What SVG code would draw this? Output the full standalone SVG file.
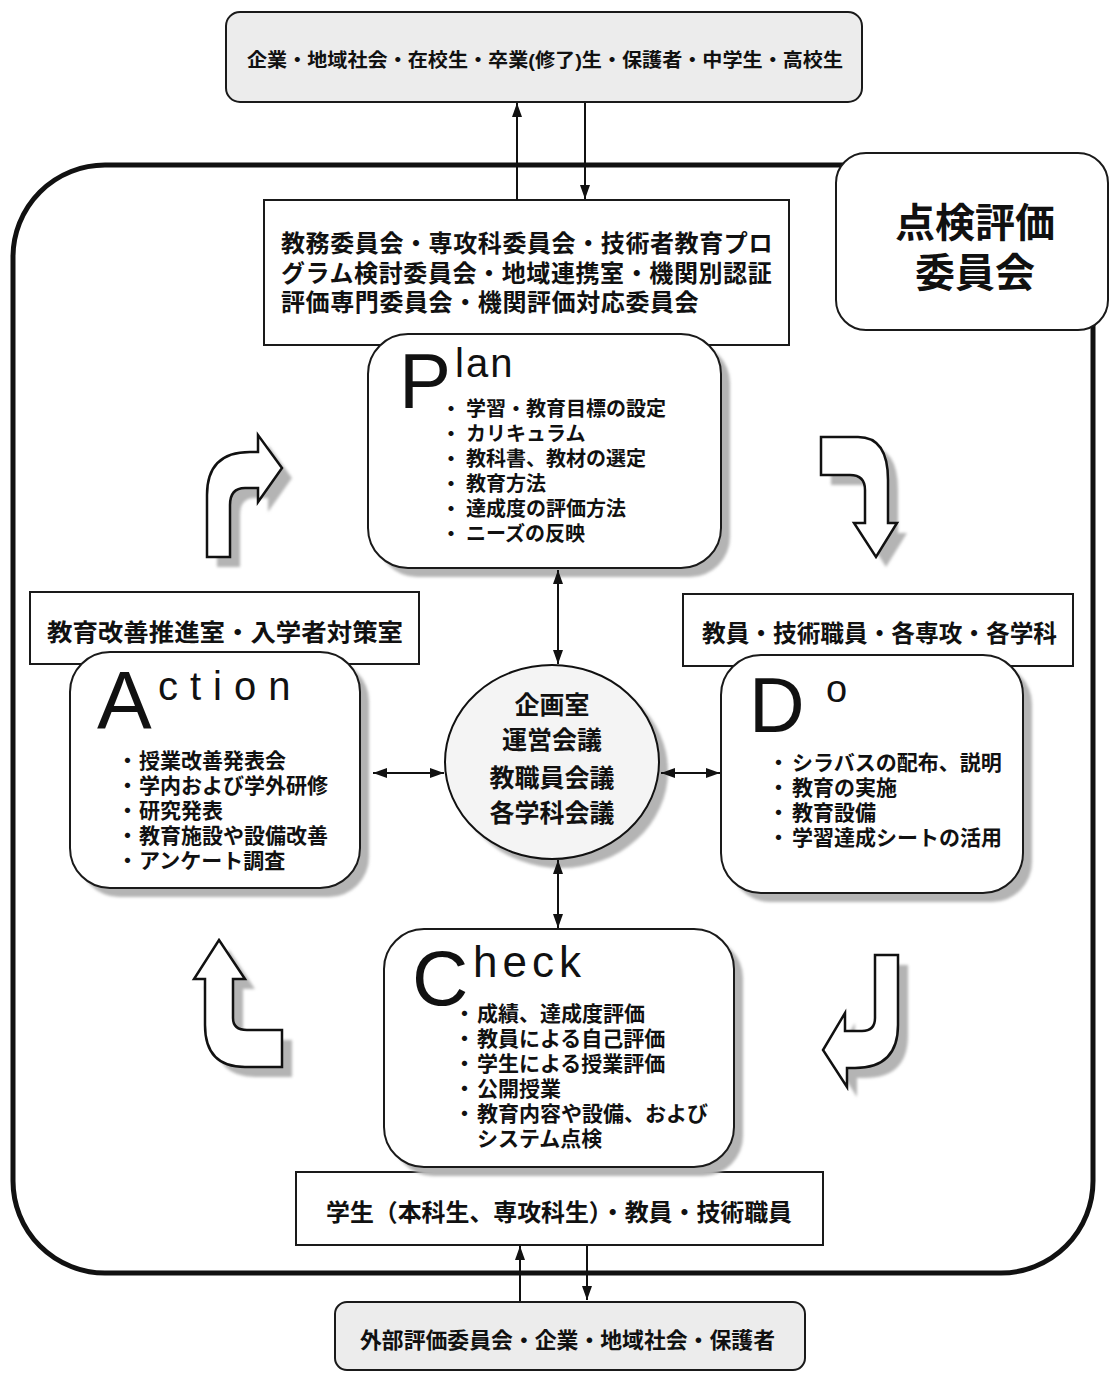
<svg xmlns="http://www.w3.org/2000/svg" width="1111" height="1373" viewBox="0 0 1111 1373">
<defs>
<style>
.jp{font-family:"Liberation Sans","Noto Sans CJK JP","Noto Sans CJK SC",sans-serif;font-weight:bold;fill:#111}
.big{font-family:"Liberation Sans",Arial,sans-serif;fill:#111}
.box{fill:#fff;stroke:#1a1a1a;stroke-width:2}
.gbox{fill:#ececec;stroke:#1a1a1a;stroke-width:2}
.shadow{fill:#b4b4b4;filter:url(#blur)}
.conn{stroke:#111;stroke-width:2;fill:none}
.cyc{fill:#fff;stroke:#111;stroke-width:2.5;stroke-linejoin:miter}
</style>
<filter id="blur" x="-10%" y="-10%" width="120%" height="120%"><feGaussianBlur stdDeviation="1.5"/></filter>
<marker id="ah" markerUnits="userSpaceOnUse" markerWidth="14" markerHeight="10" refX="14" refY="5" orient="auto-start-reverse"><path d="M0,0 L14,5 L0,10 Z" fill="#111"/></marker>
</defs>
<rect width="1111" height="1373" fill="#fff"/>

<g id="frame">
<rect x="13" y="165" width="1080" height="1108" rx="92" fill="none" stroke="#111" stroke-width="5"/>
</g>

<g id="top-stakeholders">
<rect class="gbox" x="226" y="12" width="636" height="90" rx="14"/>
<text class="jp" x="247" y="67" font-size="19" textLength="596" lengthAdjust="spacingAndGlyphs">企業・地域社会・在校生・卒業(修了)生・保護者・中学生・高校生</text>
</g>

<g id="review-committee">
<rect class="box" x="836" y="153" width="272" height="177" rx="30"/>
<text class="jp" font-size="40" text-anchor="middle"><tspan x="975" y="237">点検評価</tspan><tspan x="975" y="287">委員会</tspan></text>
</g>

<g id="plan-committees">
<rect class="box" x="264" y="200" width="525" height="145"/>
<text class="jp" font-size="24" letter-spacing="0.6"><tspan x="281" y="252">教務委員会・専攻科委員会・技術者教育プロ</tspan><tspan x="281" y="282">グラム検討委員会・地域連携室・機関別認証</tspan><tspan x="281" y="311">評価専門委員会・機関評価対応委員会</tspan></text>
</g>

<g id="plan">
<rect class="shadow" x="377" y="343" width="353" height="234" rx="40"/>
<rect class="box" x="368" y="334" width="353" height="234" rx="40"/>
<text class="big" x="399" y="408" font-size="78">P</text>
<text class="big" x="455" y="377" font-size="40" letter-spacing="2">lan</text>
<text class="jp" font-size="20"><tspan x="441" y="416">・</tspan><tspan x="466" y="416">学習・教育目標の設定</tspan><tspan x="441" y="441">・</tspan><tspan x="466" y="441">カリキュラム</tspan><tspan x="441" y="466">・</tspan><tspan x="466" y="466">教科書、教材の選定</tspan><tspan x="441" y="491">・</tspan><tspan x="466" y="491">教育方法</tspan><tspan x="441" y="516">・</tspan><tspan x="466" y="516">達成度の評価方法</tspan><tspan x="441" y="541">・</tspan><tspan x="466" y="541">ニーズの反映</tspan></text>
</g>

<g id="action-units">
<rect class="box" x="30" y="592" width="389" height="72"/>
<text class="jp" x="47" y="641" font-size="24" textLength="356" lengthAdjust="spacingAndGlyphs">教育改善推進室・入学者対策室</text>
</g>

<g id="action">
<rect class="shadow" x="79" y="661" width="290" height="236" rx="40"/>
<rect class="box" x="70" y="652" width="290" height="236" rx="40"/>
<text class="big" x="97" y="728" font-size="82">A</text>
<text class="big" x="158" y="700" font-size="40" letter-spacing="12">ction</text>
<text class="jp" font-size="21"><tspan x="117" y="768">・</tspan><tspan x="139" y="768">授業改善発表会</tspan><tspan x="117" y="793">・</tspan><tspan x="139" y="793">学内および学外研修</tspan><tspan x="117" y="818">・</tspan><tspan x="139" y="818">研究発表</tspan><tspan x="117" y="843">・</tspan><tspan x="139" y="843">教育施設や設備改善</tspan><tspan x="117" y="868">・</tspan><tspan x="139" y="868">アンケート調査</tspan></text>
</g>

<g id="do-units">
<rect class="box" x="683" y="594" width="390" height="72"/>
<text class="jp" x="702" y="642" font-size="24" textLength="355" lengthAdjust="spacingAndGlyphs">教員・技術職員・各専攻・各学科</text>
</g>

<g id="do">
<rect class="shadow" x="730" y="664" width="302" height="238" rx="40"/>
<rect class="box" x="721" y="655" width="302" height="238" rx="40"/>
<text class="big" x="749" y="732" font-size="77">D</text>
<text class="big" x="826" y="702" font-size="38">o</text>
<text class="jp" font-size="21"><tspan x="768" y="770">・</tspan><tspan x="792" y="770">シラバスの配布、説明</tspan><tspan x="768" y="795">・</tspan><tspan x="792" y="795">教育の実施</tspan><tspan x="768" y="820">・</tspan><tspan x="792" y="820">教育設備</tspan><tspan x="768" y="845">・</tspan><tspan x="792" y="845">学習達成シートの活用</tspan></text>
</g>

<g id="center">
<ellipse class="shadow" cx="561" cy="771" rx="107" ry="97"/>
<ellipse cx="552" cy="762" rx="107" ry="97" fill="#f4f4f4" stroke="#111" stroke-width="2"/>
<text class="jp" font-size="25" text-anchor="middle"><tspan x="552" y="714">企画室</tspan><tspan x="552" y="749">運営会議</tspan><tspan x="552" y="787">教職員会議</tspan><tspan x="552" y="822">各学科会議</tspan></text>
</g>

<g id="check-units">
<rect class="box" x="296" y="1172" width="527" height="73"/>
<text class="jp" x="326" y="1221" font-size="24" textLength="466" lengthAdjust="spacingAndGlyphs">学生（本科生、専攻科生）・教員・技術職員</text>
</g>

<g id="check">
<rect class="shadow" x="393" y="938" width="350" height="238" rx="40"/>
<rect class="box" x="384" y="929" width="350" height="238" rx="40"/>
<text class="big" x="412" y="1005" font-size="78">C</text>
<text class="big" x="473" y="977" font-size="44" letter-spacing="5">heck</text>
<text class="jp" font-size="21"><tspan x="454" y="1021">・</tspan><tspan x="477" y="1021">成績、達成度評価</tspan><tspan x="454" y="1046">・</tspan><tspan x="477" y="1046">教員による自己評価</tspan><tspan x="454" y="1071">・</tspan><tspan x="477" y="1071">学生による授業評価</tspan><tspan x="454" y="1096">・</tspan><tspan x="477" y="1096">公開授業</tspan><tspan x="454" y="1121">・</tspan><tspan x="477" y="1121">教育内容や設備、および</tspan><tspan x="477" y="1146">システム点検</tspan></text>
</g>

<g id="bottom-stakeholders">
<rect class="gbox" x="335" y="1302" width="470" height="68" rx="12"/>
<text class="jp" x="360" y="1348" font-size="22" textLength="415" lengthAdjust="spacingAndGlyphs">外部評価委員会・企業・地域社会・保護者</text>
</g>

<g id="cycle-arrows">
<path class="shadow" d="M217,567 L217,505 Q217,462 260,462 L268,462 L268,445 L292,478 L268,512 L268,498 L255,498 Q240,498 240,515 L240,567 Z"/>
<path class="cyc" d="M207,557 L207,495 Q207,452 250,452 L258,452 L258,435 L282,468 L258,502 L258,488 L245,488 Q230,488 230,505 L230,557 Z"/>
<path class="shadow" d="M831,447 L868,447 Q898,447 898,490 L898,533 L907,533 L886,567 L864,533 L875,533 L875,500 Q875,485 860,485 L831,485 Z"/>
<path class="cyc" d="M821,437 L858,437 Q888,437 888,480 L888,523 L897,523 L876,557 L854,523 L865,523 L865,490 Q865,475 850,475 L821,475 Z"/>
<path class="shadow" d="M229,950 L255,989 L243,989 L243,1028 Q243,1040 257,1040 L292,1040 L292,1077 L255,1077 Q215,1077 215,1035 L215,989 L204,989 Z"/>
<path class="cyc" d="M219,940 L245,979 L233,979 L233,1018 Q233,1030 247,1030 L282,1030 L282,1067 L245,1067 Q205,1067 205,1025 L205,979 L194,979 Z"/>
<path class="shadow" d="M885,965 L908,965 L908,1035 Q908,1078 865,1078 L857,1078 L857,1097 L833,1060 L855,1023 L855,1041 L872,1041 Q885,1041 885,1028 Z"/>
<path class="cyc" d="M875,955 L898,955 L898,1025 Q898,1068 855,1068 L847,1068 L847,1087 L823,1050 L845,1013 L845,1031 L862,1031 Q875,1031 875,1018 Z"/>
</g>

<g id="connectors">
<line class="conn" x1="517" y1="200" x2="517" y2="103" marker-end="url(#ah)"/>
<line class="conn" x1="585" y1="103" x2="585" y2="199" marker-end="url(#ah)"/>
<line class="conn" x1="558" y1="570" x2="558" y2="664" marker-start="url(#ah)" marker-end="url(#ah)"/>
<line class="conn" x1="558" y1="860" x2="558" y2="928" marker-start="url(#ah)" marker-end="url(#ah)"/>
<line class="conn" x1="373" y1="773" x2="444" y2="773" marker-start="url(#ah)" marker-end="url(#ah)"/>
<line class="conn" x1="661" y1="773" x2="720" y2="773" marker-start="url(#ah)" marker-end="url(#ah)"/>
<line class="conn" x1="520" y1="1301" x2="520" y2="1246" marker-end="url(#ah)"/>
<line class="conn" x1="587" y1="1246" x2="587" y2="1300" marker-end="url(#ah)"/>
</g>
</svg>
